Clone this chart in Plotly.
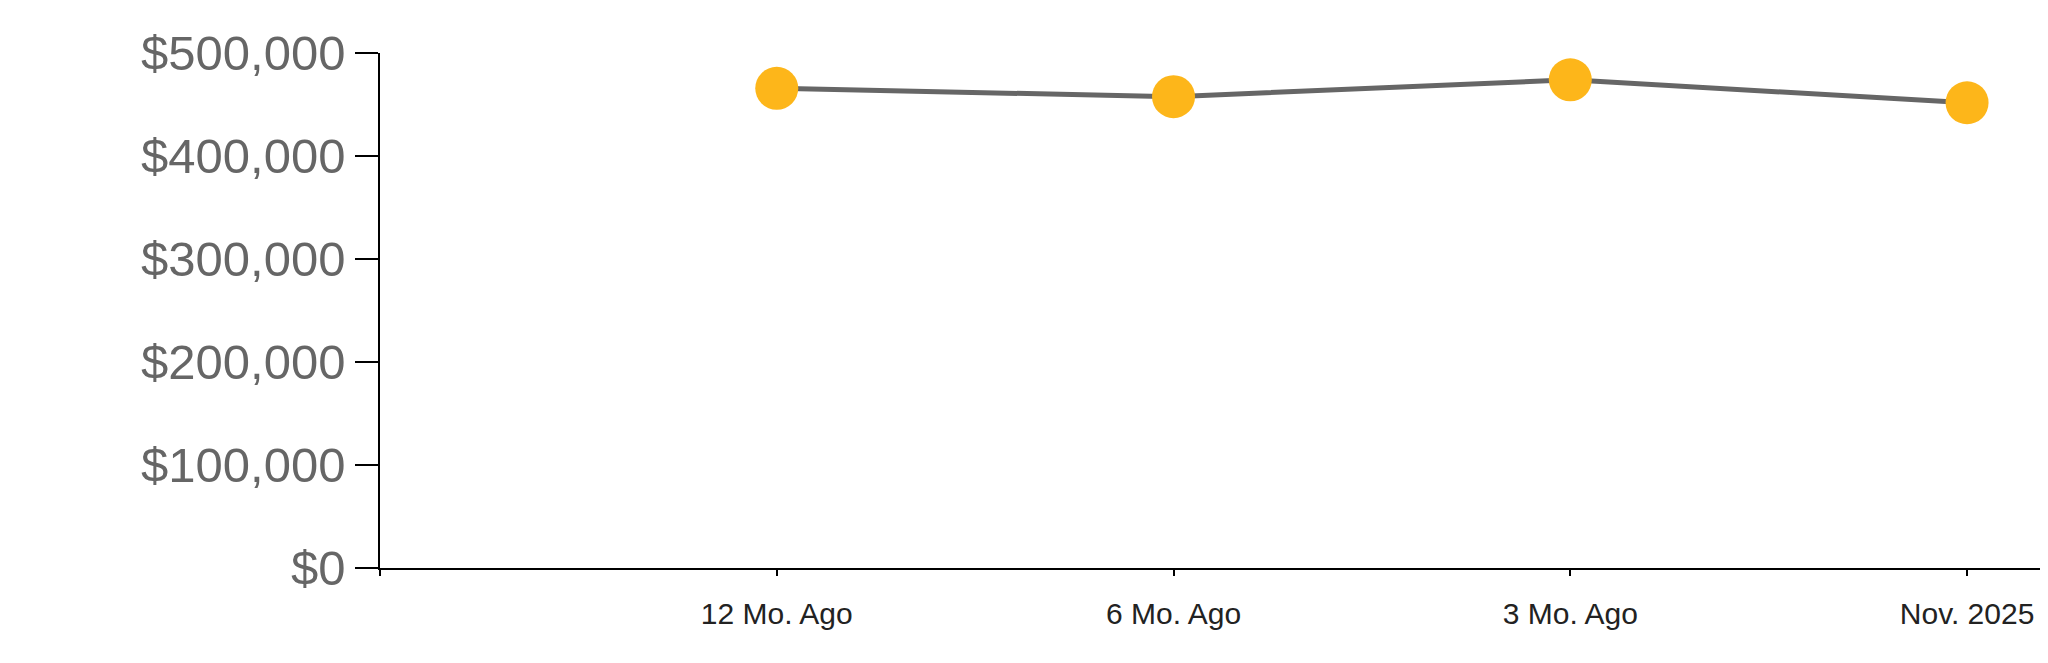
import plotly.graph_objects as go

categories = ["12 Mo. Ago", "6 Mo. Ago", "3 Mo. Ago", "Nov. 2025"]
values = [465700, 457600, 474000, 451700]
y_ticks = [0, 100000, 200000, 300000, 400000, 500000]
y_tick_labels = ["$0", "$100,000", "$200,000", "$300,000", "$400,000", "$500,000"]

x_pos = list(range(1, len(categories) + 1))

fig = go.Figure()
fig.add_trace(go.Scatter(
    x=x_pos, y=values, mode="lines+markers",
    line=dict(color="#666666", width=5),
    marker=dict(color="#FDB61A", size=43, line=dict(width=0)),
    cliponaxis=False, hoverinfo="skip",
))

fig.update_layout(
    width=2040, height=655,
    margin=dict(l=372, r=0, t=45, b=95),
    paper_bgcolor="white", plot_bgcolor="white",
    showlegend=False,
    font=dict(family="Liberation Sans, Arial, sans-serif"),
)
fig.update_xaxes(
    range=[0, 4.204], tickmode="array",
    tickvals=[0] + x_pos, ticktext=[""] + categories,
    showgrid=False, zeroline=False,
    showline=True, linecolor="black", linewidth=1.5,
    ticks="outside", ticklen=6, tickcolor="black", tickwidth=1.5,
    tickfont=dict(size=30, color="#222222"),
    ticklabelstandoff=12,
)
fig.update_yaxes(
    range=[0, 500000], tickmode="array",
    tickvals=y_ticks, ticktext=y_tick_labels,
    showgrid=False, zeroline=False,
    showline=True, linecolor="black", linewidth=1.5,
    ticks="outside", ticklen=23, tickcolor="black", tickwidth=1.5,
    tickfont=dict(size=49, color="#666666"),
)

fig.write_html("out.html")
